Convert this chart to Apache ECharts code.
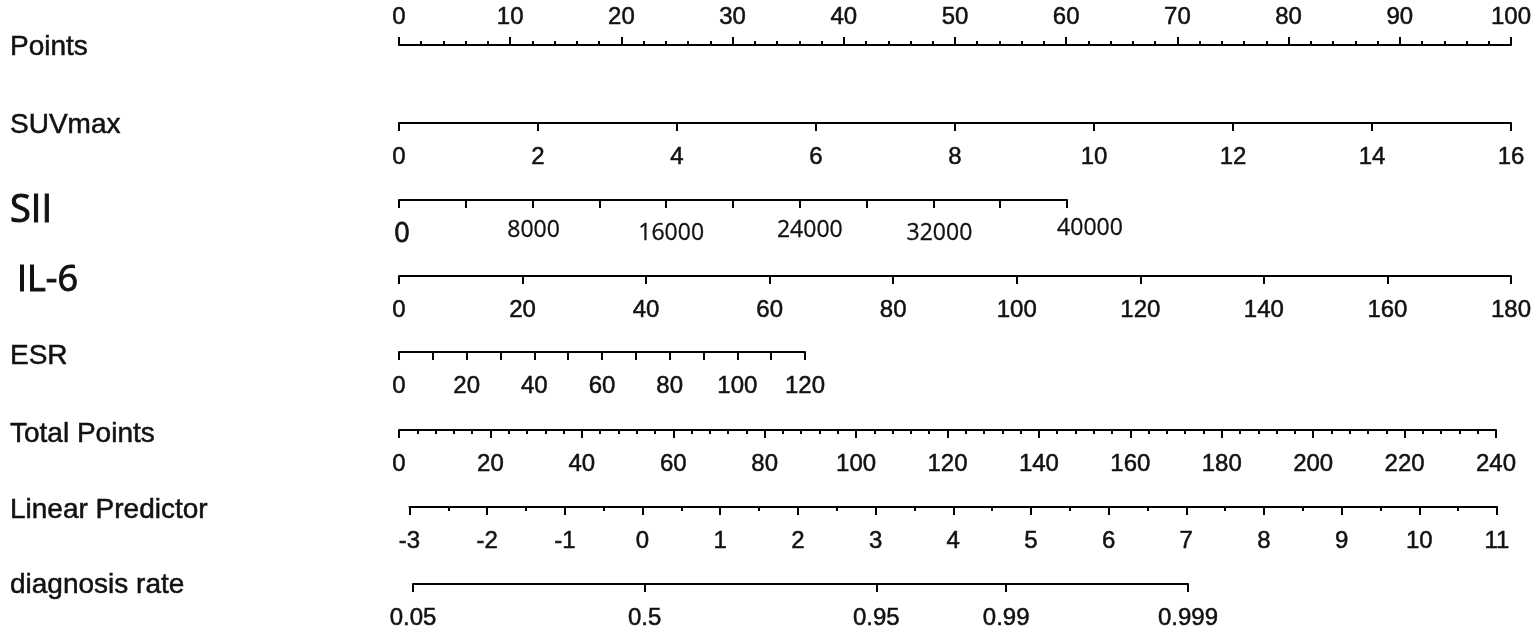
<!DOCTYPE html>
<html><head><meta charset="utf-8">
<script src="https://cdn.jsdelivr.net/npm/echarts@6/dist/echarts.min.js"></script>
<style>html,body{margin:0;padding:0;background:#fff}#c{width:1540px;height:634px}</style>
</head><body><div id="c"></div>
<script>
// ---- data ----
const rowNames = ['Points', 'SUVmax', 'SII', 'IL-6', 'ESR', 'Total Points', 'Linear Predictor', 'diagnosis rate'];
const pointsRange = [0, 100];
const suvmaxRange = [0, 16];
const siiRange = [0, 40000];
const il6Range = [0, 180];
const esrRange = [0, 120];
const totalPointsRange = [0, 240];
const linearPredictorRange = [-3, 11];
const diagnosisRateTicks = [0.05, 0.5, 0.95, 0.99, 0.999];
const siiLabelValues = [0, 8000, 16000, 24000, 32000, 40000];
const esrLabelValues = [0, 20, 40, 60, 80, 100, 120];

// ---- layout ----
const FONT = 'Liberation Sans';
const rowY = [45, 123, 200, 276, 352, 430, 507, 584];
const nameY = [47, 125, 211, 281, 356, 434, 510, 585];
const pointsX = [399, 1511];
const siiX = [399, 1067];
const esrX = [399, 805];
const totalX = [399, 1496];
const lpX = [409.5, 1497];
const diagX = [413, 1188];
const logit = p => Math.log(p / (1 - p));
const diagLogits = diagnosisRateTicks.map(logit);

const grids = [], xAxes = [], yAxes = [], series = [];
function addAxis(y, xr, top, axisOpt) {
  const i = grids.length;
  grids.push({ left: xr[0], width: xr[1] - xr[0], top: top ? y : y - 10, height: 10, containLabel: false });
  yAxes.push({ gridIndex: i, type: 'value', show: false, min: 0, max: 1 });
  const base = {
    gridIndex: i, type: 'value', position: top ? 'top' : 'bottom',
    axisLine: { show: true, onZero: false, lineStyle: { color: '#000', width: 2 } },
    axisTick: { show: true, length: 8, lineStyle: { color: '#000', width: 2 } },
    minorTick: { show: false },
    splitLine: { show: false },
    minorSplitLine: { show: false },
    axisLabel: { show: true, margin: top ? 16 : 22, color: '#111', fontFamily: FONT, fontSize: 24,
                 textBorderColor: '#111', textBorderWidth: 0.5,
                 showMinLabel: true, showMaxLabel: true, hideOverlap: false }
  };
  const ax = Object.assign({}, base, axisOpt);
  ax.axisLabel = Object.assign({}, base.axisLabel, axisOpt.axisLabel || {});
  if (axisOpt.minorTick) ax.minorTick = Object.assign({ show: true, length: 4, lineStyle: { color: '#000', width: 2 } }, axisOpt.minorTick);
  xAxes.push(ax);
  series.push({ type: 'line', xAxisIndex: i, yAxisIndex: i, data: [], silent: true });
}

// Points
addAxis(rowY[0], pointsX, true, { min: pointsRange[0], max: pointsRange[1], interval: 10, minorTick: { splitNumber: 5, length: 4 } });
// SUVmax
addAxis(rowY[1], pointsX, false, { min: suvmaxRange[0], max: suvmaxRange[1], interval: 2 });
// SII (labels were placed slightly offset in the original)
const siiShift = { 0: [6, 4], 8000: [2, 2], 16000: [10, 5], 24000: [20, 2], 32000: [12, 5], 40000: [46, 0] };
const siiRich = {};
siiLabelValues.forEach((v, k) => {
  const s = siiShift[v];
  siiRich['s' + k] = { fontFamily: 'Open Sans', fontSize: v === 0 ? 27 : 23, color: '#111',
                       textBorderColor: '#111', textBorderWidth: v === 0 ? 0.8 : 0.3,
                       padding: [s[1], 0, 0, s[0]] };
});
addAxis(rowY[2], siiX, false, {
  min: siiRange[0], max: siiRange[1], interval: 4000,
  axisLabel: { margin: 17, formatter: v => { const k = siiLabelValues.indexOf(v); return k < 0 ? '' : '{s' + k + '|' + v + '}'; }, rich: siiRich }
});
// IL-6
addAxis(rowY[3], pointsX, false, { min: il6Range[0], max: il6Range[1], interval: 20 });
// ESR
addAxis(rowY[4], esrX, false, {
  min: esrRange[0], max: esrRange[1], interval: 10,
  axisLabel: { formatter: v => esrLabelValues.indexOf(v) >= 0 ? String(v) : '' }
});
// Total Points
addAxis(rowY[5], totalX, false, { min: totalPointsRange[0], max: totalPointsRange[1], interval: 20, minorTick: { splitNumber: 5, length: 4 } });
// Linear Predictor
addAxis(rowY[6], lpX, false, { min: linearPredictorRange[0], max: linearPredictorRange[1], interval: 1, minorTick: { splitNumber: 2, length: 4 } });
// diagnosis rate (logit scale)
addAxis(rowY[7], diagX, false, {
  min: diagLogits[0], max: diagLogits[diagLogits.length - 1],
  axisTick: { show: true, length: 8, lineStyle: { color: '#000', width: 2 }, customValues: diagLogits },
  axisLabel: { customValues: diagLogits, fontSize: 24,
    formatter: v => { let best = 0; diagLogits.forEach((l, k) => { if (Math.abs(l - v) < Math.abs(diagLogits[best] - v)) best = k; }); return String(diagnosisRateTicks[best]); } }
});

// row names
const graphics = rowNames.map((n, k) => {
  const big = (n === 'SII' || n === 'IL-6');
  return {
    type: 'text', x: n === 'IL-6' ? 17 : 10, y: nameY[k],
    style: { text: n, fill: '#111', fontFamily: big ? 'Open Sans' : FONT,
             fontSize: n === 'SII' ? 38 : (n === 'IL-6' ? 36 : 28),
             stroke: '#111', lineWidth: big ? 1 : 0.5,
             verticalAlign: 'middle', align: 'left' }
  };
});

const chart = echarts.init(document.getElementById('c'));
chart.setOption({
  animation: false,
  backgroundColor: '#fff',
  grid: grids, xAxis: xAxes, yAxis: yAxes, series: series,
  graphic: graphics
});
</script></body></html>
